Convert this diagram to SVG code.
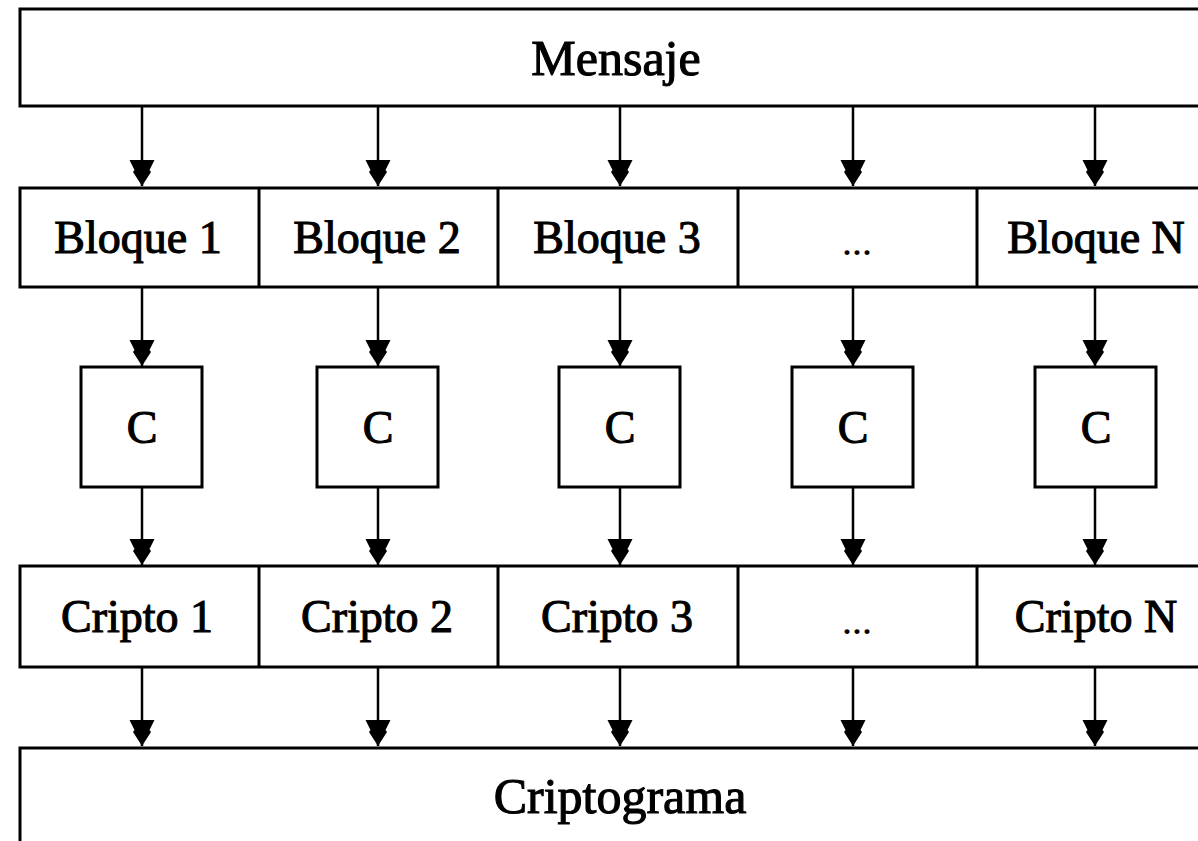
<svg xmlns="http://www.w3.org/2000/svg" width="1198" height="841" viewBox="0 0 1198 841">
<style>
.box{fill:#fff;stroke:#000;stroke-width:3}
.div{stroke:#000;stroke-width:3}
.lbl{font-family:"Liberation Serif","Times New Roman",serif;font-size:46px;fill:#000;text-anchor:middle;stroke:#000;stroke-width:1.1}
.big{font-size:50px}
.dots{font-size:40px;stroke-width:0.2}
.con{stroke:#000;stroke-width:2.5;fill:none;marker-end:url(#ah)}
</style>
<defs>
<marker id="ah" markerUnits="userSpaceOnUse" markerWidth="28" markerHeight="26" viewBox="-27 -13 28 26" refX="0" refY="0" orient="auto">
<path d="M-26,-12.5 L-26,12.5 L-16,7.5 L-14,9 L0,0 L-14,-9 L-16,-7.5 Z" fill="#000"/>
</marker>
</defs>
<rect width="1198" height="841" fill="#fff"/>
<g id="mensaje"><rect class="box" x="20" y="9" width="1200" height="97"/><text class="lbl big" x="616" y="75">Mensaje</text></g>
<g id="bloques">
<rect class="box" x="20" y="188" width="1200" height="99"/>
<line class="div" x1="259" y1="188" x2="259" y2="287"/><line class="div" x1="498" y1="188" x2="498" y2="287"/><line class="div" x1="738" y1="188" x2="738" y2="287"/><line class="div" x1="977" y1="188" x2="977" y2="287"/>
</g>
<g id="bloque1"><text class="lbl" x="138" y="253">Bloque 1</text></g>
<g id="bloque2"><text class="lbl" x="377" y="253">Bloque 2</text></g>
<g id="bloque3"><text class="lbl" x="617" y="253">Bloque 3</text></g>
<g id="bloqueDots"><text class="lbl dots" x="857" y="255">...</text></g>
<g id="bloqueN"><text class="lbl" x="1096" y="253">Bloque N</text></g>
<g id="c1"><rect class="box" x="81" y="367" width="121" height="120"/><text class="lbl" x="142" y="443">C</text></g>
<g id="c2"><rect class="box" x="317" y="367" width="121" height="120"/><text class="lbl" x="378" y="443">C</text></g>
<g id="c3"><rect class="box" x="559" y="367" width="121" height="120"/><text class="lbl" x="620" y="443">C</text></g>
<g id="c4"><rect class="box" x="792" y="367" width="121" height="120"/><text class="lbl" x="853" y="443">C</text></g>
<g id="c5"><rect class="box" x="1035" y="367" width="121" height="120"/><text class="lbl" x="1096" y="443">C</text></g>
<g id="criptos">
<rect class="box" x="20" y="566" width="1200" height="101"/>
<line class="div" x1="259" y1="566" x2="259" y2="667"/><line class="div" x1="498" y1="566" x2="498" y2="667"/><line class="div" x1="738" y1="566" x2="738" y2="667"/><line class="div" x1="977" y1="566" x2="977" y2="667"/>
</g>
<g id="cripto1"><text class="lbl" x="137" y="632">Cripto 1</text></g>
<g id="cripto2"><text class="lbl" x="377" y="632">Cripto 2</text></g>
<g id="cripto3"><text class="lbl" x="617" y="632">Cripto 3</text></g>
<g id="criptoDots"><text class="lbl dots" x="857" y="634">...</text></g>
<g id="criptoN"><text class="lbl" x="1096" y="632">Cripto N</text></g>
<g id="criptograma"><rect class="box" x="20" y="748" width="1200" height="120"/><text class="lbl big" x="620" y="813">Criptograma</text></g>
<g id="connectors">
<line class="con" x1="142" y1="106" x2="142" y2="186"/><line class="con" x1="378" y1="106" x2="378" y2="186"/><line class="con" x1="620" y1="106" x2="620" y2="186"/><line class="con" x1="853" y1="106" x2="853" y2="186"/><line class="con" x1="1095" y1="106" x2="1095" y2="186"/>
<line class="con" x1="142" y1="287" x2="142" y2="366"/><line class="con" x1="378" y1="287" x2="378" y2="366"/><line class="con" x1="620" y1="287" x2="620" y2="366"/><line class="con" x1="853" y1="287" x2="853" y2="366"/><line class="con" x1="1095" y1="287" x2="1095" y2="366"/>
<line class="con" x1="142" y1="487" x2="142" y2="565"/><line class="con" x1="378" y1="487" x2="378" y2="565"/><line class="con" x1="620" y1="487" x2="620" y2="565"/><line class="con" x1="853" y1="487" x2="853" y2="565"/><line class="con" x1="1095" y1="487" x2="1095" y2="565"/>
<line class="con" x1="142" y1="667" x2="142" y2="746"/><line class="con" x1="378" y1="667" x2="378" y2="746"/><line class="con" x1="620" y1="667" x2="620" y2="746"/><line class="con" x1="853" y1="667" x2="853" y2="746"/><line class="con" x1="1095" y1="667" x2="1095" y2="746"/>
</g>
</svg>
